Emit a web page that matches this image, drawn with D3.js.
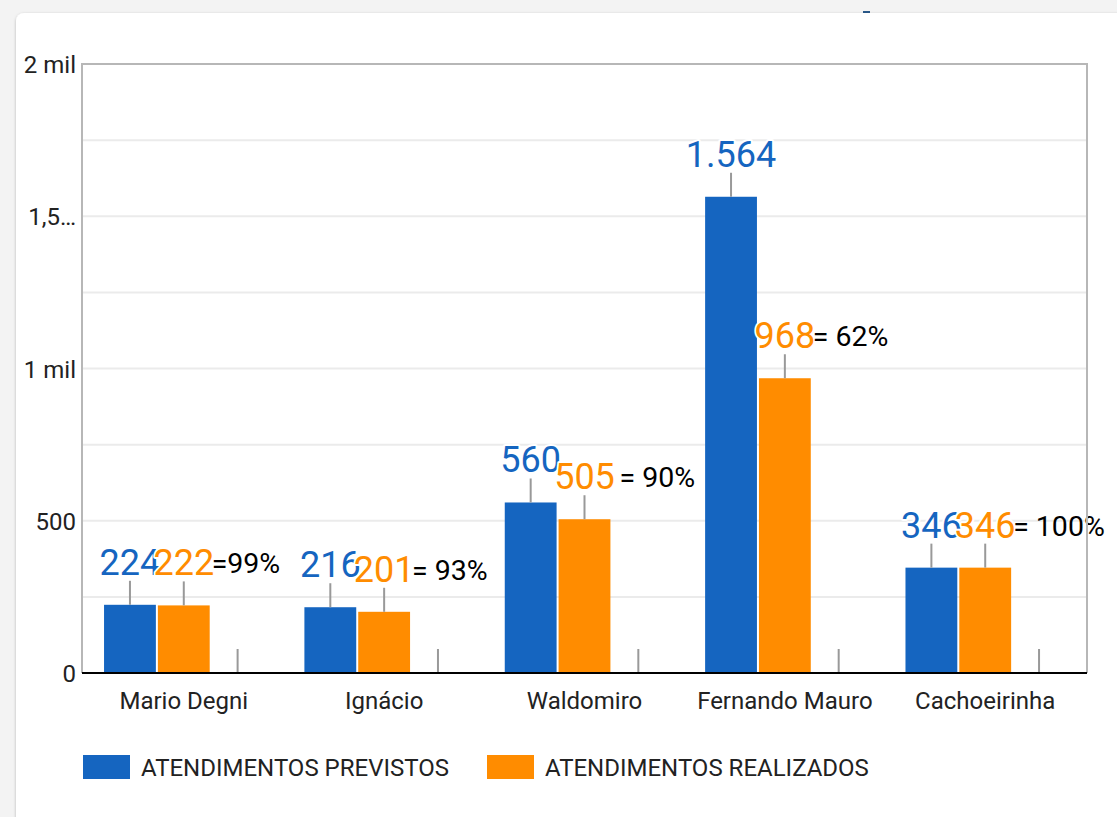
<!DOCTYPE html>
<html>
<head>
<meta charset="utf-8">
<script src="https://cdn.jsdelivr.net/npm/d3@7"></script>
<style>
  html, body { margin: 0; padding: 0; background: #f3f3f3; overflow: hidden; }
  svg { display: block; font-family: Roboto, "Noto Sans", sans-serif; }
</style>
</head>
<body>
<svg id="chart" width="1117" height="817"></svg>
<script>
// data
const categories = ["Mario Degni", "Ignácio", "Waldomiro", "Fernando Mauro", "Cachoeirinha"];
const previstos = [224, 216, 560, 1564, 346];
const realizados = [222, 201, 505, 968, 346];
const vazia = [0, 0, 0, 0, 0]; // third (invisible) series, only its stem shows
const percentuais = ["=99%", "= 93%", " = 90%", "= 62%", "= 100%"];
const yTicks = [0, 500, 1000, 1500, 2000];
const yTickLabels = ["0", "500", "1 mil", "1,5…", "2 mil"];
const legendLabels = ["ATENDIMENTOS PREVISTOS", "ATENDIMENTOS REALIZADOS"];

const blue = "#1565c0", orange = "#ff8c00";
const seriesColors = [blue, orange, "none"];

const svg = d3.select("#chart");

// card background
const defs = svg.append("defs");
const f = defs.append("filter").attr("id", "shadow").attr("x", "-5%").attr("y", "-5%").attr("width", "110%").attr("height", "110%");
f.append("feDropShadow").attr("dx", 0).attr("dy", 1).attr("stdDeviation", 1.5).attr("flood-color", "#000").attr("flood-opacity", 0.25);

svg.append("rect").attr("x", 0).attr("y", 0).attr("width", 1117).attr("height", 12).attr("fill", "#f3f3f3");
svg.append("rect").attr("x", 863).attr("y", 11).attr("width", 7).attr("height", 2).attr("fill", "#2a5a8a");
svg.append("rect")
    .attr("x", 16).attr("y", 13).attr("width", 1140).attr("height", 850)
    .attr("rx", 8).attr("fill", "#fff").attr("filter", "url(#shadow)");

const pLeft = 82, pRight = 1087, pTop = 64, pBottom = 673;

const y = d3.scaleLinear().domain([0, 2000]).range([pBottom, pTop]);
const x0 = d3.scaleBand().domain(categories).range([pLeft, pRight]).paddingInner(0.204).paddingOuter(0.11);
const x1 = d3.scaleBand().domain([0, 1, 2]).range([0, x0.bandwidth()]).paddingInner(0.037);

const g = svg.append("g");

// gridlines
g.selectAll(".grid")
    .data(d3.range(250, 2000, 250))
    .enter().append("line")
    .attr("x1", pLeft).attr("x2", pRight)
    .attr("y1", d => y(d)).attr("y2", d => y(d))
    .attr("stroke", "#ebebeb").attr("stroke-width", 2);

// bars
const rows = categories.map((c, i) => ({ cat: c, vals: [previstos[i], realizados[i], vazia[i]] }));

const groups = g.selectAll(".grp")
    .data(rows)
    .enter().append("g")
    .attr("transform", d => `translate(${x0(d.cat)},0)`);

groups.selectAll("rect")
    .data(d => d.vals.map((v, k) => ({ v, k })).filter(d => d.k < 2))
    .enter().append("rect")
    .attr("x", d => x1(d.k))
    .attr("width", x1.bandwidth())
    .attr("y", d => y(d.v))
    .attr("height", d => pBottom - y(d.v))
    .attr("fill", d => seriesColors[d.k]);

// plot frame
g.append("path")
    .attr("d", `M${pLeft},${pBottom}V${pTop}H${pRight}V${pBottom}`)
    .attr("fill", "none").attr("stroke", "#b7b7b7").attr("stroke-width", 2);
g.append("line")
    .attr("x1", pLeft).attr("x2", pRight).attr("y1", pBottom).attr("y2", pBottom)
    .attr("stroke", "#000").attr("stroke-width", 2);

// annotation stems
groups.selectAll(".stem")
    .data(d => d.vals.map((v, k) => ({ v, k })))
    .enter().append("line")
    .attr("x1", d => x1(d.k) + x1.bandwidth() / 2)
    .attr("x2", d => x1(d.k) + x1.bandwidth() / 2)
    .attr("y1", d => y(d.v))
    .attr("y2", d => y(d.v) - 24)
    .attr("stroke", "#999").attr("stroke-width", 2);

// value labels
const fmt = d3.formatLocale({ decimal: ",", thousands: ".", grouping: [3], currency: ["R$", ""] }).format(",d");

groups.selectAll(".val")
    .data(d => d.vals.map((v, k) => ({ v, k })).filter(d => d.k < 2))
    .enter().append("text")
    .attr("x", d => x1(d.k) + x1.bandwidth() / 2)
    .attr("y", d => y(d.v) - 30)
    .attr("text-anchor", "middle")
    .style("font-size", "36px")
    .attr("fill", d => seriesColors[d.k])
    .attr("stroke", "#fff").attr("stroke-width", 4).attr("stroke-linejoin", "round")
    .style("paint-order", "stroke")
    .text(d => fmt(d.v));

// percent labels
groups.append("text")
    .attr("x", x1(1) + x1.bandwidth() + 2)
    .attr("y", (d, i) => y(realizados[i]) - 32)
    .attr("text-anchor", "start")
    .style("font-size", "28.5px")
    .style("white-space", "pre")
    .attr("fill", "#000")
    .text((d, i) => percentuais[i]);

// y axis labels
g.selectAll(".ylab")
    .data(yTicks)
    .enter().append("text")
    .attr("x", pLeft - 6)
    .attr("y", d => y(d) + 9)
    .attr("text-anchor", "end")
    .style("font-size", "24px")
    .attr("fill", "#222")
    .text((d, i) => yTickLabels[i]);

// x axis labels
g.selectAll(".xlab")
    .data(categories)
    .enter().append("text")
    .attr("x", d => x0(d) + x0.bandwidth() / 2)
    .attr("y", 709)
    .attr("text-anchor", "middle")
    .style("font-size", "24px")
    .attr("fill", "#222")
    .text(d => d);

// legend
const legX = [83, 487];
const leg = svg.append("g").selectAll("g")
    .data(legendLabels)
    .enter().append("g")
    .attr("transform", (d, i) => `translate(${legX[i]},755)`);
leg.append("rect").attr("width", 47).attr("height", 24).attr("fill", (d, i) => seriesColors[i]);
leg.append("text")
    .attr("x", 58).attr("y", 20.5)
    .style("font-size", "24px")
    .attr("fill", "#222")
    .text(d => d);
</script>
</body>
</html>
